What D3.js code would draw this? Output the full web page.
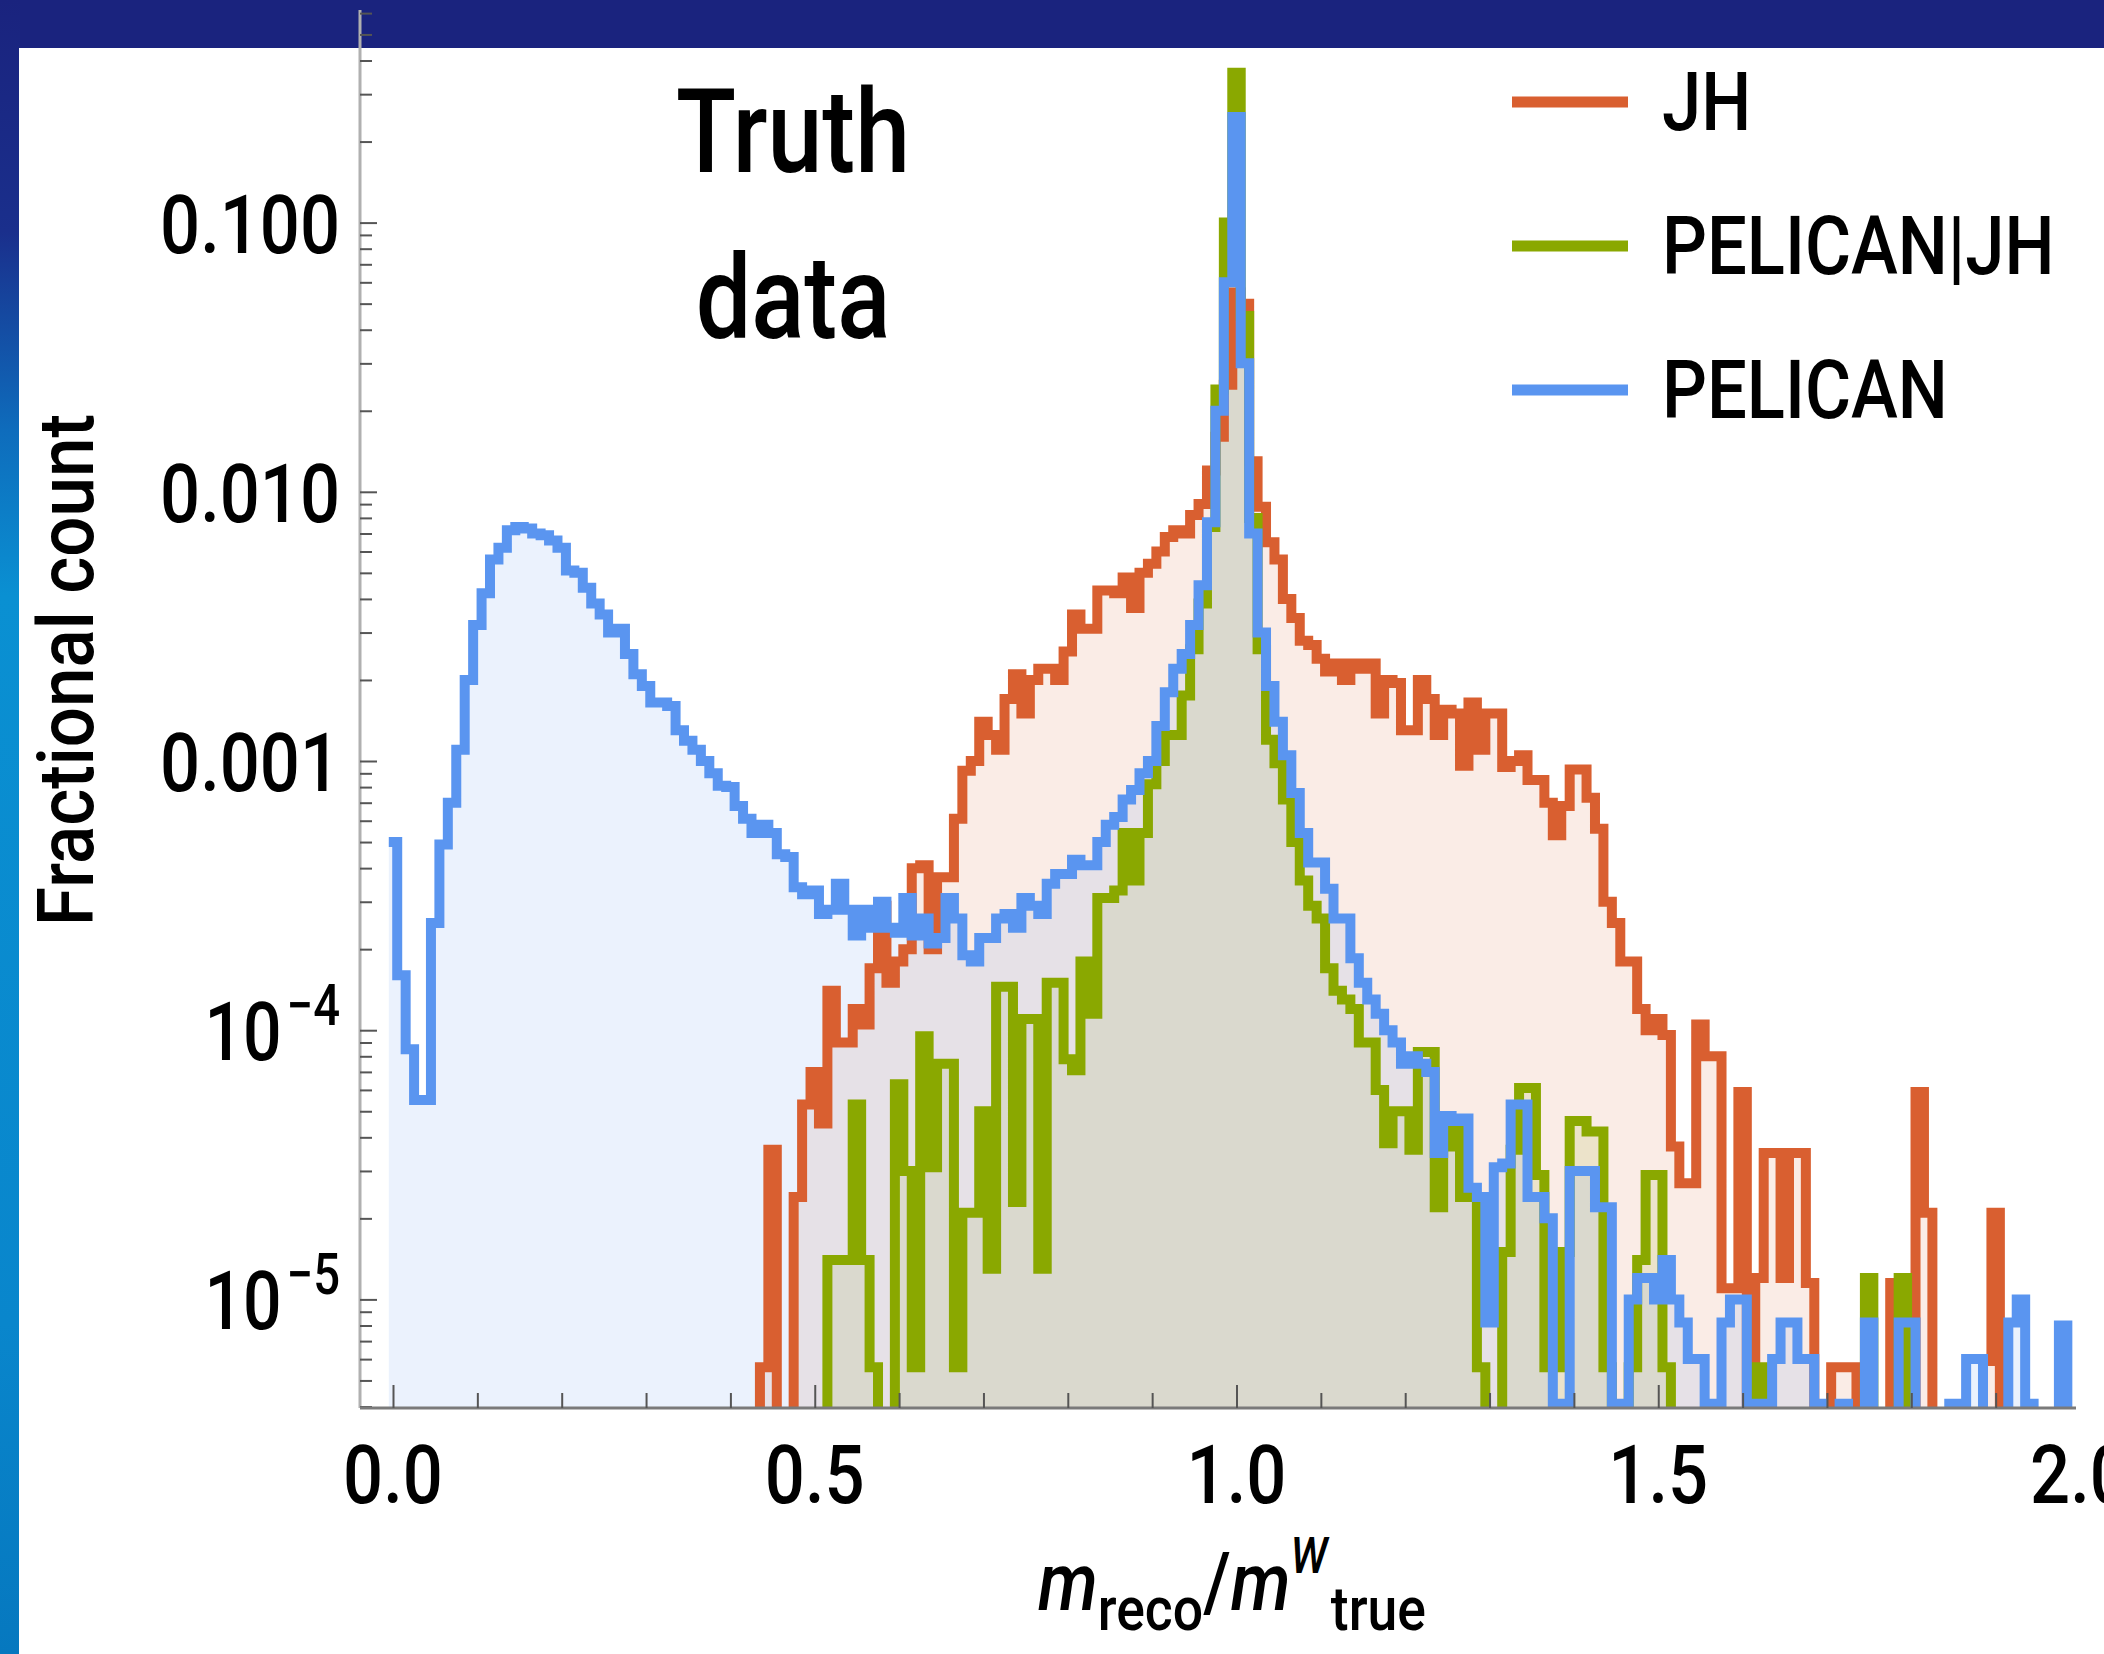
<!DOCTYPE html>
<html>
<head>
<meta charset="utf-8">
<script src="https://cdn.jsdelivr.net/npm/d3@7"></script>
<style>
  html, body { margin: 0; padding: 0; background: #1a237e; overflow: hidden; }
  svg { display: block; }
  text { font-family: Roboto, "Noto Sans", sans-serif; font-weight: 500; fill: #000; }
</style>
</head>
<body>
<svg id="chart" width="2104" height="1654"></svg>
<script>
// Histogram bins: centred on multiples of 0.01, 200 bins from 0.00 to 1.99
const binWidth = 0.01;
const binCount = 200;

const seriesNames = ["JH", "PELICAN|JH", "PELICAN"];
const seriesColors = ["#d95f30", "#8aa800", "#5a95f0"];

// Fractional counts (0 = empty bin)
const jh = [
  0, 0, 0, 0, 0, 0, 0, 0, 0, 0,
  0, 0, 0, 0, 0, 0, 0, 0, 0, 0,
  0, 0, 0, 0, 0, 0, 0, 0, 0, 0,
  0, 0, 0, 0, 0, 0, 0, 0, 0, 0,
  0, 0, 0, 0, 5.6e-6, 3.6e-5, 0, 0, 2.4e-5, 5.3e-5,
  7.0e-5, 4.5e-5, 1.4e-4, 9.0e-5, 9.0e-5, 1.2e-4, 1.05e-4, 1.7e-4, 2.9e-4, 1.5e-4,
  1.8e-4, 2.0e-4, 4.0e-4, 4.1e-4, 2.0e-4, 3.7e-4, 3.7e-4, 6.1e-4, 9.2e-4, 1.0e-3,
  1.4e-3, 1.25e-3, 1.1e-3, 1.7e-3, 2.1e-3, 1.5e-3, 2.0e-3, 2.2e-3, 2.2e-3, 2.0e-3,
  2.55e-3, 3.5e-3, 3.1e-3, 3.1e-3, 4.3e-3, 4.3e-3, 4.2e-3, 4.8e-3, 3.7e-3, 5.0e-3,
  5.4e-3, 6.0e-3, 6.8e-3, 7.2e-3, 7.0e-3, 8.2e-3, 9.0e-3, 1.2e-2, 1.6e-2, 2.5e-2,
  5.5e-2, 5.0e-2, 1.3e-2, 8.8e-3, 6.5e-3, 5.6e-3, 4.0e-3, 3.4e-3, 2.8e-3, 2.7e-3,
  2.4e-3, 2.15e-3, 2.3e-3, 2.0e-3, 2.3e-3, 2.2e-3, 2.3e-3, 1.5e-3, 2.0e-3, 1.95e-3,
  1.3e-3, 1.3e-3, 2.0e-3, 1.7e-3, 1.25e-3, 1.55e-3, 1.5e-3, 9.6e-4, 1.65e-3, 1.1e-3,
  1.5e-3, 1.5e-3, 9.5e-4, 1.0e-3, 1.05e-3, 8.5e-4, 8.5e-4, 7.0e-4, 5.3e-4, 6.8e-4,
  9.3e-4, 9.3e-4, 7.3e-4, 5.6e-4, 3.0e-4, 2.5e-4, 1.8e-4, 1.8e-4, 1.2e-4, 1.0e-4,
  1.1e-4, 9.6e-5, 3.7e-5, 2.7e-5, 2.7e-5, 1.05e-4, 8.0e-5, 8.0e-5, 1.1e-5, 1.1e-5,
  5.9e-5, 0, 1.2e-5, 3.5e-5, 3.5e-5, 1.2e-5, 3.5e-5, 3.5e-5, 1.15e-5, 0,
  0, 5.6e-6, 5.6e-6, 5.6e-6, 0, 0, 0, 0, 1.15e-5, 0,
  0, 5.9e-5, 2.1e-5, 0, 0, 0, 0, 0, 0, 5.9e-6,
  2.1e-5, 0, 0, 0, 0, 0, 0, 0, 0, 0
];

const pelicanJH = [
  0, 0, 0, 0, 0, 0, 0, 0, 0, 0,
  0, 0, 0, 0, 0, 0, 0, 0, 0, 0,
  0, 0, 0, 0, 0, 0, 0, 0, 0, 0,
  0, 0, 0, 0, 0, 0, 0, 0, 0, 0,
  0, 0, 0, 0, 0, 0, 0, 0, 0, 0,
  0, 0, 1.4e-5, 1.4e-5, 1.4e-5, 5.3e-5, 1.4e-5, 5.6e-6, 0, 0,
  6.3e-5, 3.0e-5, 5.6e-6, 9.5e-5, 3.1e-5, 7.5e-5, 7.5e-5, 5.6e-6, 2.1e-5, 2.1e-5,
  5.0e-5, 1.3e-5, 1.45e-4, 1.45e-4, 2.3e-5, 1.1e-4, 1.1e-4, 1.3e-5, 1.5e-4, 1.5e-4,
  7.8e-5, 7.1e-5, 1.8e-4, 1.15e-4, 3.1e-4, 3.1e-4, 3.3e-4, 5.4e-4, 3.6e-4, 5.4e-4,
  8.2e-4, 1.0e-3, 1.25e-3, 1.25e-3, 1.75e-3, 2.6e-3, 3.85e-3, 7.4e-3, 2.4e-2, 1.0e-1,
  3.6e-1, 4.5e-2, 8.0e-3, 2.6e-3, 1.2e-3, 9.8e-4, 7.2e-4, 5.0e-4, 3.6e-4, 2.9e-4,
  2.6e-4, 1.7e-4, 1.4e-4, 1.3e-4, 1.2e-4, 9.0e-5, 9.0e-5, 6.0e-5, 3.8e-5, 5.0e-5,
  5.0e-5, 3.6e-5, 8.3e-5, 8.3e-5, 2.2e-5, 3.7e-5, 4.6e-5, 2.4e-5, 2.4e-5, 5.6e-6,
  0, 0, 1.5e-5, 3.6e-5, 6.1e-5, 6.1e-5, 2.9e-5, 5.6e-6, 5.6e-6, 1.5e-5,
  4.6e-5, 4.6e-5, 4.2e-5, 4.2e-5, 5.6e-6, 0, 0, 5.6e-6, 1.4e-5, 2.9e-5,
  2.9e-5, 5.6e-6, 0, 0, 0, 0, 0, 0, 0, 0,
  0, 0, 5.6e-6, 0, 0, 0, 0, 0, 0, 0,
  0, 0, 0, 0, 0, 1.2e-5, 0, 0, 0, 1.2e-5,
  0, 0, 0, 0, 0, 0, 0, 0, 0, 0,
  0, 0, 0, 0, 0, 0, 0, 0, 0, 0
];

const pelican = [
  5.0e-4, 1.6e-4, 8.5e-5, 5.5e-5, 5.5e-5, 2.5e-4, 4.9e-4, 7.0e-4, 1.1e-3, 2.0e-3,
  3.2e-3, 4.2e-3, 5.6e-3, 6.2e-3, 7.2e-3, 7.4e-3, 7.3e-3, 7.0e-3, 6.9e-3, 6.6e-3,
  6.2e-3, 5.1e-3, 5.0e-3, 4.4e-3, 3.85e-3, 3.5e-3, 3.0e-3, 3.1e-3, 2.5e-3, 2.1e-3,
  1.9e-3, 1.65e-3, 1.65e-3, 1.6e-3, 1.3e-3, 1.19e-3, 1.1e-3, 1.0e-3, 9.0e-4, 8.1e-4,
  8.0e-4, 6.8e-4, 6.1e-4, 5.4e-4, 5.8e-4, 5.4e-4, 4.5e-4, 4.4e-4, 3.4e-4, 3.2e-4,
  3.3e-4, 2.7e-4, 2.8e-4, 3.5e-4, 2.8e-4, 2.25e-4, 2.8e-4, 2.4e-4, 3.0e-4, 2.4e-4,
  2.3e-4, 3.1e-4, 2.25e-4, 2.6e-4, 2.1e-4, 2.2e-4, 3.1e-4, 2.6e-4, 1.9e-4, 1.8e-4,
  2.2e-4, 2.2e-4, 2.6e-4, 2.7e-4, 2.4e-4, 3.1e-4, 2.9e-4, 2.7e-4, 3.5e-4, 3.8e-4,
  3.8e-4, 4.3e-4, 4.1e-4, 4.1e-4, 5.0e-4, 5.8e-4, 6.2e-4, 7.2e-4, 7.8e-4, 9.0e-4,
  1.0e-3, 1.35e-3, 1.8e-3, 2.2e-3, 2.5e-3, 3.2e-3, 4.5e-3, 7.7e-3, 2.0e-2, 6.0e-2,
  0.247, 3.0e-2, 7.0e-3, 3.0e-3, 1.9e-3, 1.4e-3, 1.05e-3, 7.6e-4, 5.4e-4, 4.2e-4,
  4.2e-4, 3.35e-4, 2.6e-4, 2.6e-4, 1.85e-4, 1.5e-4, 1.3e-4, 1.15e-4, 1.0e-4, 9.0e-5,
  7.5e-5, 8.0e-5, 7.5e-5, 7.0e-5, 3.5e-5, 4.8e-5, 4.6e-5, 4.7e-5, 2.6e-5, 2.4e-5,
  8.2e-6, 3.1e-5, 3.2e-5, 5.3e-5, 5.3e-5, 2.4e-5, 2.4e-5, 2.0e-5, 4.1e-6, 4.1e-6,
  3.0e-5, 3.0e-5, 3.0e-5, 2.2e-5, 2.2e-5, 4.1e-6, 4.1e-6, 1.0e-5, 1.2e-5, 1.2e-5,
  1.0e-5, 1.4e-5, 1.0e-5, 8.2e-6, 6.0e-6, 6.0e-6, 4.1e-6, 4.1e-6, 8.2e-6, 1.0e-5,
  1.0e-5, 4.1e-6, 4.1e-6, 4.1e-6, 6.0e-6, 8.2e-6, 8.2e-6, 6.0e-6, 6.0e-6, 4.1e-6,
  0, 0, 4.1e-6, 0, 0, 8.2e-6, 0, 0, 0, 8.2e-6,
  8.2e-6, 0, 0, 0, 0, 4.1e-6, 4.1e-6, 6.0e-6, 6.0e-6, 0,
  0, 0, 8.2e-6, 1.0e-5, 4.1e-6, 0, 0, 0, 8.0e-6, 0
];

const xTickLabels = ["0.0", "0.5", "1.0", "1.5", "2.0"];
const xMajorTicks = [0, 0.5, 1.0, 1.5];
const yMajorTicks = [0.1, 0.01, 0.001, 1e-4, 1e-5];
const yTickLabels = [["0.100"], ["0.010"], ["0.001"], ["10", "\u22124"], ["10", "\u22125"]];

// ---------------------------------------------------------------
const W = 2104, H = 1654;
const svg = d3.select("#chart");

// slide background: navy band, blue side strip, white panel
const defs = svg.append("defs");
const grad = defs.append("linearGradient")
  .attr("id", "side").attr("x1", 0).attr("x2", 0).attr("y1", 0).attr("y2", 1);
[["0%", "#1a237e"], ["14%", "#1a2f8c"], ["26%", "#0e6cbc"], ["36%", "#0a90d2"], ["80%", "#0986cc"], ["100%", "#0678bf"]]
  .forEach(([o, c]) => grad.append("stop").attr("offset", o).attr("stop-color", c));

svg.append("rect").attr("width", W).attr("height", H).attr("fill", "#1a237e");
svg.append("rect").attr("x", 0).attr("y", 0).attr("width", 20).attr("height", H).attr("fill", "url(#side)");
svg.append("rect").attr("x", 19).attr("y", 48).attr("width", W - 19).attr("height", H - 48).attr("fill", "#ffffff");

// plot frame
const plotLeft = 360, plotRight = 2076, plotTop = 10, plotBottom = 1408;

const x = d3.scaleLinear().domain([0, 2]).range([393, 2080]);
const y = d3.scaleLog().domain([1e-5, 0.1]).range([1299.4, 222.6]);

defs.append("clipPath").attr("id", "plotClip")
  .append("rect")
  .attr("x", plotLeft).attr("y", 0)
  .attr("width", plotRight - plotLeft).attr("height", plotBottom);

// empty bins drop below the frame and get clipped away
const yv = (v) => (v > 0 ? y(v) : plotBottom + 40);

function stepPoints(values) {
  const pts = [];
  values.forEach((v, k) => {
    const c = k * binWidth;
    pts.push([c - binWidth / 2, v], [c + binWidth / 2, v]);
  });
  return pts;
}

const allSeries = [jh, pelicanJH, pelican].map((values, i) => ({
  name: seriesNames[i],
  color: seriesColors[i],
  points: stepPoints(values.slice(0, binCount)),
}));

const line = d3.line().x((d) => x(d[0])).y((d) => yv(d[1]));
const area = d3.area().x((d) => x(d[0])).y0(plotBottom).y1((d) => yv(d[1]));

const dataG = svg.append("g").attr("clip-path", "url(#plotClip)");

// translucent fills first, then the outlines (JH, PELICAN|JH, PELICAN)
dataG.selectAll("path.fill")
  .data(allSeries)
  .join("path")
  .attr("class", "fill")
  .attr("d", (d) => area(d.points))
  .attr("fill", (d) => d.color)
  .attr("fill-opacity", 0.12);

dataG.selectAll("path.outline")
  .data(allSeries)
  .join("path")
  .attr("class", "outline")
  .attr("d", (d) => line(d.points))
  .attr("fill", "none")
  .attr("stroke", (d) => d.color)
  .attr("stroke-width", 10)
  .attr("stroke-linejoin", "miter");

// ---------------- axes ----------------
// y axis
const yMinor = [];
for (let e = -6; e <= -1; e++) {
  for (let m = 2; m <= 9; m++) {
    const v = m * Math.pow(10, e);
    if (y(v) <= plotBottom && y(v) >= plotTop + 2) yMinor.push(v);
  }
}

svg.append("line")
  .attr("x1", plotLeft).attr("x2", plotLeft)
  .attr("y1", plotTop).attr("y2", plotBottom)
  .attr("stroke", "#b0b0b0").attr("stroke-width", 3);

const yMajorAxis = svg.append("g")
  .attr("transform", `translate(${plotLeft},0)`)
  .call(d3.axisRight(y).tickValues(yMajorTicks).tickSize(17).tickFormat(""));
const yMinorAxis = svg.append("g")
  .attr("transform", `translate(${plotLeft},0)`)
  .call(d3.axisRight(y).tickValues(yMinor).tickSize(12).tickFormat(""));

// x axis
const xMinor = d3.range(0, 20).map((i) => i / 10).filter((v) => !xMajorTicks.includes(v));

svg.append("line")
  .attr("x1", plotLeft).attr("x2", plotRight)
  .attr("y1", plotBottom).attr("y2", plotBottom)
  .attr("stroke", "#7a7a7a").attr("stroke-width", 3);

const xMajorAxis = svg.append("g")
  .attr("transform", `translate(0,${plotBottom})`)
  .call(d3.axisTop(x).tickValues(xMajorTicks).tickSize(23).tickFormat(""));
const xMinorAxis = svg.append("g")
  .attr("transform", `translate(0,${plotBottom})`)
  .call(d3.axisTop(x).tickValues(xMinor).tickSize(15).tickFormat(""));

[yMajorAxis, yMinorAxis, xMajorAxis, xMinorAxis].forEach((g) => {
  g.select(".domain").remove();
  g.selectAll(".tick line").attr("stroke", "#555").attr("stroke-width", 2);
});

// narrow the Roboto glyphs to look like the condensed face of the original
function condense(sel, ratio) {
  sel.each(function () {
    const len = this.getComputedTextLength();
    d3.select(this).attr("textLength", len * ratio).attr("lengthAdjust", "spacingAndGlyphs");
  });
}

// y tick labels
const yLabelG = svg.append("g");
yMajorTicks.forEach((v, i) => {
  const parts = yTickLabels[i];
  const t = yLabelG.append("text")
    .attr("x", 340)
    .attr("y", y(v) + 30)
    .attr("text-anchor", "end")
    .attr("font-size", 82);
  t.append("tspan").text(parts[0]);
  if (parts.length > 1) {
    t.append("tspan").attr("dx", 6).attr("dy", -35).attr("font-size", 57).text(parts[1]);
  }
  condense(t, 0.86);
});

// x tick labels
const xLabelG = svg.append("g");
xTickLabels.forEach((lab, i) => {
  const t = xLabelG.append("text")
    .attr("x", x(i * 0.5))
    .attr("y", 1503)
    .attr("text-anchor", "middle")
    .attr("font-size", 82)
    .text(lab);
  condense(t, 0.86);
});

// axis titles
const yTitle = svg.append("text")
  .attr("transform", "translate(93,670) rotate(-90)")
  .attr("text-anchor", "middle")
  .attr("font-size", 78)
  .text("Fractional count");
yTitle.attr("textLength", 512).attr("lengthAdjust", "spacingAndGlyphs");

const xTitle = svg.append("text")
  .attr("x", 1232)
  .attr("y", 1610)
  .attr("text-anchor", "middle")
  .attr("font-size", 82);
xTitle.append("tspan").attr("font-style", "italic").text("m");
xTitle.append("tspan").attr("font-size", 62).attr("dy", 20).text("reco");
xTitle.append("tspan").attr("dy", -20).text("/");
xTitle.append("tspan").attr("font-style", "italic").text("m");
xTitle.append("tspan").attr("font-style", "italic").attr("font-size", 50).attr("dy", -37).text("W");
xTitle.append("tspan").attr("font-size", 62).attr("dx", 4).attr("dy", 57).text("true");
xTitle.attr("textLength", 388).attr("lengthAdjust", "spacingAndGlyphs");

// "Truth data" annotation
["Truth", "data"].forEach((w, i) => {
  const t = svg.append("text")
    .attr("x", 793)
    .attr("y", i === 0 ? 172 : 338)
    .attr("text-anchor", "middle")
    .attr("font-size", 116)
    .text(w);
  condense(t, 0.85);
});

// legend
const legendY = [102, 246, 390];
const legend = svg.append("g");
allSeries.forEach((s, i) => {
  legend.append("line")
    .attr("x1", 1512).attr("x2", 1628)
    .attr("y1", legendY[i]).attr("y2", legendY[i])
    .attr("stroke", s.color)
    .attr("stroke-width", 11);
  const t = legend.append("text")
    .attr("x", 1662)
    .attr("y", legendY[i] + 28)
    .attr("font-size", 82)
    .text(s.name);
  condense(t, 0.86);
});
</script>
</body>
</html>
